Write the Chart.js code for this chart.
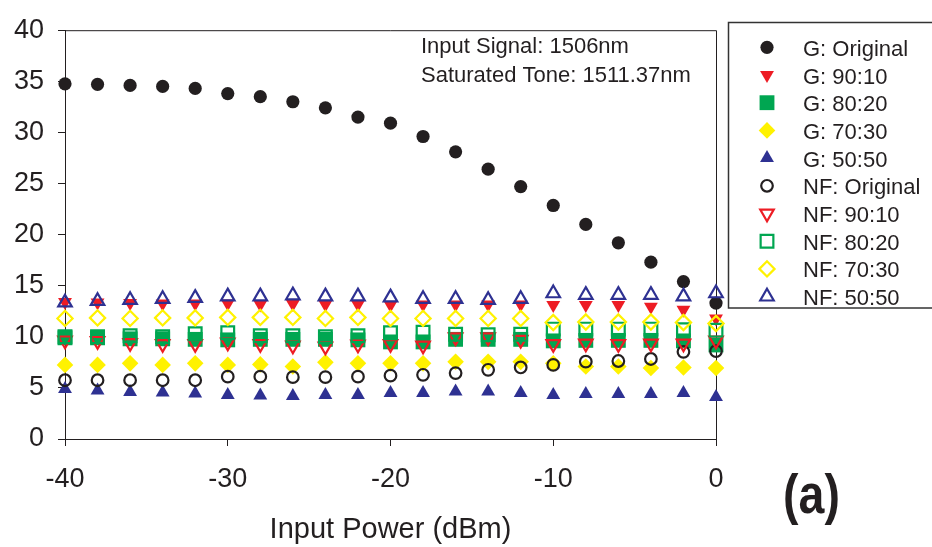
<!DOCTYPE html>
<html>
<head>
<meta charset="utf-8">
<script src="https://cdn.jsdelivr.net/npm/chart.js@4.4.1/dist/chart.umd.min.js"></script>
<style>
html,body{margin:0;padding:0;background:#ffffff;}
#c{display:block;}
</style>
</head>
<body>
<canvas id="c" width="932" height="547"></canvas>
<script>
// ---------- data ----------
const inputPower = [-40,-38,-36,-34,-32,-30,-28,-26,-24,-22,-20,-18,-16,-14,-12,-10,-8,-6,-4,-2,0];

const gOriginal  = [34.75,34.7,34.6,34.5,34.3,33.8,33.5,33.0,32.4,31.5,30.9,29.6,28.1,26.4,24.7,22.85,21.0,19.2,17.3,15.4,13.3];
const g9010      = [13.4,13.35,13.3,13.25,13.25,13.25,13.15,13.2,13.15,13.15,13.1,13.15,13.15,13.15,13.15,13.1,13.1,13.1,12.95,12.65,11.8];
const g8020      = [9.9,9.9,9.8,9.8,9.75,9.7,9.75,9.75,9.75,9.7,9.5,9.5,9.75,9.75,9.75,9.6,9.65,9.65,9.65,9.6,9.2];
const g7030      = [7.25,7.25,7.4,7.25,7.4,7.25,7.3,7.1,7.5,7.4,7.4,7.4,7.55,7.55,7.55,7.4,7.1,7.1,6.95,7.0,6.95];
const g5050      = [4.9,4.75,4.6,4.55,4.45,4.3,4.25,4.2,4.3,4.3,4.5,4.5,4.65,4.65,4.5,4.3,4.4,4.4,4.4,4.5,4.1];
const nfOriginal = [5.75,5.75,5.75,5.75,5.75,6.1,6.1,6.05,6.05,6.1,6.2,6.28,6.45,6.77,7.0,7.25,7.57,7.63,7.83,8.53,8.6];
const nf9010     = [9.65,9.6,9.4,9.3,9.3,9.45,9.3,9.15,9.05,9.25,9.3,9.15,9.95,9.95,9.7,9.3,9.35,9.3,9.35,9.35,9.65];
const nf8020     = [10.0,10.0,10.1,10.0,10.3,10.4,10.1,10.1,10.0,10.1,10.4,10.45,10.25,10.2,10.25,10.75,10.75,10.75,10.75,10.7,10.65];
const nf7030     = [11.8,11.85,11.8,11.85,11.85,11.9,11.9,11.9,11.8,11.9,11.8,11.8,11.8,11.8,11.8,11.4,11.45,11.45,11.45,11.4,11.3];
const nf5050     = [13.35,13.5,13.6,13.7,13.8,13.95,13.95,14.05,13.95,13.95,13.85,13.7,13.7,13.6,13.7,14.25,14.1,14.1,14.1,13.95,14.25];

const seriesNames = ['G: Original','G: 90:10','G: 80:20','G: 70:30','G: 50:50',
                     'NF: Original','NF: 90:10','NF: 80:20','NF: 70:30','NF: 50:50'];
const xTickValues = [-40,-30,-20,-10,0];
const yTickValues = [0,5,10,15,20,25,30,35,40];
const xAxisTitle = 'Input Power (dBm)';
const noteLines = ['Input Signal: 1506nm','Saturated Tone: 1511.37nm'];
const panelLabel = '(a)';

// ---------- styles ----------
const FONT = "'Liberation Sans', Arial, Helvetica, sans-serif";
const INK = '#231f20';
const RED = '#ed1c24', GREEN = '#00a651', YELLOW = '#fff200', BLUE = '#2e3192';
const NONE = 'rgba(0,0,0,0)';

const styles = [
  {ps:'circle',   rot:0,   r:6.6, fill:INK,    stroke:INK,    lw:0},
  {ps:'triangle', rot:180, r:8,   fill:RED,    stroke:RED,    lw:0},
  {ps:'rect',     rot:0,   r:10.5,fill:GREEN,  stroke:GREEN,  lw:0},
  {ps:'rectRot',  rot:0,   r:8.3, fill:YELLOW, stroke:YELLOW, lw:0},
  {ps:'triangle', rot:0,   r:8,   fill:BLUE,   stroke:BLUE,   lw:0},
  {ps:'circle',   rot:0,   r:5.8, fill:NONE,   stroke:INK,    lw:2.2},
  {ps:'triangle', rot:180, r:7.8, fill:NONE,   stroke:RED,    lw:2.2},
  {ps:'rect',     rot:0,   r:9,   fill:NONE,   stroke:GREEN,  lw:2.2},
  {ps:'rectRot',  rot:0,   r:7.6, fill:NONE,   stroke:YELLOW, lw:2.2},
  {ps:'triangle', rot:0,   r:7.8, fill:NONE,   stroke:BLUE,   lw:2.2}
];
const seriesValues = [gOriginal,g9010,g8020,g7030,g5050,nfOriginal,nf9010,nf8020,nf7030,nf5050];

const datasets = seriesValues.map((vals, i) => ({
  label: seriesNames[i],
  data: inputPower.map((x, k) => ({x: x, y: vals[k]})),
  showLine: false,
  pointStyle: styles[i].ps,
  pointRotation: styles[i].rot,
  pointRadius: styles[i].r,
  pointHoverRadius: styles[i].r,
  pointBackgroundColor: styles[i].fill,
  pointBorderColor: styles[i].stroke,
  pointBorderWidth: styles[i].lw,
  order: 10 - i,
  clip: false
}));

function drawMarker(ctx, s, x, y) {
  const r = s.r;
  ctx.save();
  ctx.beginPath();
  if (s.ps === 'circle') {
    ctx.arc(x, y, r, 0, Math.PI * 2);
  } else if (s.ps === 'triangle') {
    let a = s.rot * Math.PI / 180;
    ctx.moveTo(x + Math.sin(a) * r, y - Math.cos(a) * r);
    a += 2 * Math.PI / 3;
    ctx.lineTo(x + Math.sin(a) * r, y - Math.cos(a) * r);
    a += 2 * Math.PI / 3;
    ctx.lineTo(x + Math.sin(a) * r, y - Math.cos(a) * r);
    ctx.closePath();
  } else if (s.ps === 'rect') {
    const h = Math.SQRT1_2 * r;
    ctx.rect(x - h, y - h, 2 * h, 2 * h);
  } else if (s.ps === 'rectRot') {
    ctx.moveTo(x - r, y); ctx.lineTo(x, y - r); ctx.lineTo(x + r, y); ctx.lineTo(x, y + r);
    ctx.closePath();
  }
  ctx.fillStyle = s.fill;
  ctx.fill();
  if (s.lw > 0) { ctx.lineWidth = s.lw; ctx.strokeStyle = s.stroke; ctx.stroke(); }
  ctx.restore();
}

const framePlugin = {
  id: 'frame',
  beforeDatasetsDraw(chart) {
    const {ctx, chartArea: a} = chart;
    ctx.save();
    ctx.strokeStyle = INK; ctx.lineWidth = 1;
    ctx.beginPath();
    ctx.moveTo(a.left, a.top + 0.5); ctx.lineTo(a.right + 0.5, a.top + 0.5);
    ctx.lineTo(a.right + 0.5, a.bottom);
    ctx.stroke();
    ctx.restore();
  },
  afterDraw(chart) {
    const {ctx, chartArea: a} = chart;
    ctx.save();
    ctx.fillStyle = INK;
    ctx.textBaseline = 'alphabetic';
    // note text
    ctx.font = '22px ' + FONT;
    ctx.textAlign = 'left';
    ctx.fillText(noteLines[0], 421, 53);
    ctx.fillText(noteLines[1], 421, 81.5);
    // axis title
    ctx.font = '29px ' + FONT;
    ctx.textAlign = 'center';
    ctx.fillText(xAxisTitle, (a.left + a.right) / 2, 538);
    // panel label
    ctx.save();
    ctx.translate(811.5, 513);
    ctx.scale(0.83, 1);
    ctx.font = 'bold 56px ' + FONT;
    ctx.textAlign = 'center';
    ctx.fillText(panelLabel, 0, 0);
    ctx.restore();
    // legend
    ctx.strokeStyle = '#333333'; ctx.lineWidth = 1.5;
    ctx.strokeRect(728.5, 22.5, 240, 285.5);
    ctx.font = '22px ' + FONT;
    ctx.textAlign = 'left';
    for (let i = 0; i < seriesNames.length; i++) {
      const y = 47.3 + i * 27.7;
      drawMarker(ctx, styles[i], 767, y);
      ctx.fillStyle = INK;
      ctx.fillText(seriesNames[i], 803, y + 8.5);
    }
    ctx.restore();
  }
};

new Chart(document.getElementById('c'), {
  type: 'scatter',
  data: { datasets: datasets },
  options: {
    responsive: false,
    animation: false,
    events: [],
    layout: { padding: { left: 0, right: 216, top: 22, bottom: 0 } },
    plugins: { legend: { display: false }, tooltip: { enabled: false }, title: { display: false } },
    scales: {
      x: {
        type: 'linear', min: -40, max: 0,
        afterBuildTicks: s => { s.ticks = xTickValues.map(v => ({ value: v })); },
        afterFit: s => { s.height = 108; },
        ticks: { font: { family: FONT, size: 27 }, color: INK, padding: 17, maxRotation: 0 },
        grid: { drawOnChartArea: false, drawTicks: true, tickLength: 7, color: INK, tickColor: INK, lineWidth: 1 },
        border: { display: true, color: INK, width: 1 }
      },
      y: {
        type: 'linear', min: 0, max: 40,
        afterBuildTicks: s => { s.ticks = yTickValues.map(v => ({ value: v })); },
        afterFit: s => { s.width = 65; },
        ticks: { font: { family: FONT, size: 27 }, color: INK, padding: 14 },
        grid: { drawOnChartArea: false, drawTicks: true, tickLength: 7, color: INK, tickColor: INK, lineWidth: 1 },
        border: { display: true, color: INK, width: 1 }
      }
    }
  },
  plugins: [framePlugin]
});
</script>
</body>
</html>
